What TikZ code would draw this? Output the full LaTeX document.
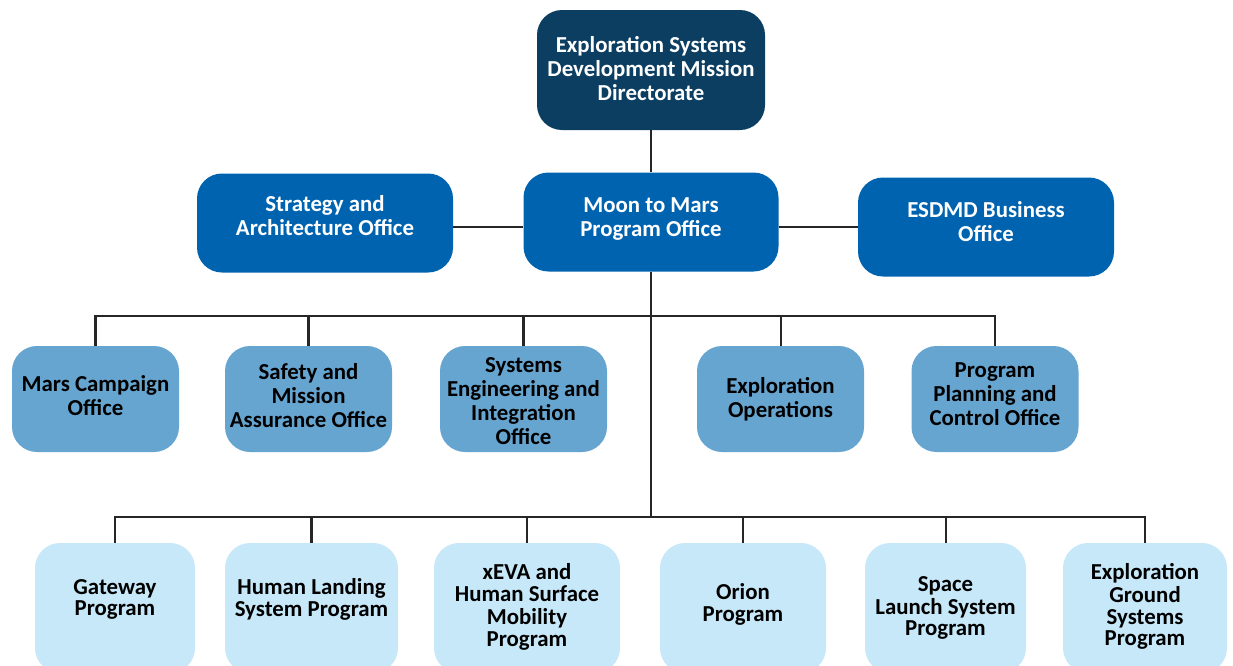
\documentclass[tikz,border=0pt]{standalone}
\usepackage{fontspec}
\setmainfont{Carlito}
\usepackage{tikz}
\usetikzlibrary{shapes,positioning,calc}
\definecolor{navy}{RGB}{12,62,98}
\definecolor{esdblue}{RGB}{0,99,176}
\definecolor{midblue}{RGB}{103,165,209}
\definecolor{paleblue}{RGB}{199,232,248}
\newcommand{\boxlines}[2]{\raisebox{#1}[\height][\depth]{\begin{tabular}{@{}c@{}}#2\end{tabular}}}
\tikzstyle{box} = [rounded corners=0.5cm, inner sep=2pt, font=\fontsize{13}{13.6}\selectfont\bfseries]
\tikzstyle{dirbox} = [box, fill=navy, text=white, minimum width=4.56cm, minimum height=2.4cm]
\tikzstyle{officebox} = [box, fill=esdblue, text=white, minimum width=5.12cm, minimum height=1.98cm]
\tikzstyle{unitbox} = [box, fill=midblue, text=black, minimum width=3.34cm, minimum height=2.12cm]
\tikzstyle{progbox} = [box, fill=paleblue, text=black, minimum height=2.6cm, font=\fontsize{13}{12.3}\selectfont\bfseries]
\tikzstyle{link} = [line width=1.15pt, draw=black!85]

\begin{document}
\begin{tikzpicture}
	\useasboundingbox (0,0) rectangle (24.66,-13.3);
	\node[dirbox] (esdmd) at (13.02,-1.40) {\boxlines{-0.03cm}{Exploration Systems\\Development Mission\\Directorate}};
	\node[officebox] (strat) at (6.50,-4.46) {\boxlines{0.08cm}{Strategy and\\Architecture Office}};
	\node[officebox, minimum width=5.10cm] (m2m) at (13.02,-4.44) {\boxlines{0.05cm}{Moon to Mars\\Program Office}};
	\node[officebox] (biz) at (19.72,-4.54) {\boxlines{0.05cm}{ESDMD Business\\Office}};
	\node[unitbox] (mars) at (1.91,-7.98) {\boxlines{0cm}{Mars Campaign\\Office}};
	\node[unitbox] (sma) at (6.17,-7.98) {\boxlines{0cm}{Safety and\\Mission\\Assurance Office}};
	\node[unitbox] (sei) at (10.47,-7.98) {\boxlines{-0.09cm}{Systems\\Engineering and\\Integration\\Office}};
	\node[unitbox] (expops) at (15.61,-7.98) {\boxlines{-0.03cm}{Exploration\\Operations}};
	\node[unitbox] (ppc) at (19.90,-7.98) {\boxlines{0.04cm}{Program\\Planning and\\Control Office}};
	\node[progbox, minimum width=3.20cm] (gateway) at (2.30,-12.16) {\boxlines{0.15cm}{Gateway\\Program}};
	\node[progbox, minimum width=3.46cm] (hls) at (6.23,-12.16) {\boxlines{0.15cm}{Human Landing\\System Program}};
	\node[progbox, minimum width=3.72cm] (xeva) at (10.54,-12.16) {\boxlines{0cm}{xEVA and\\Human Surface\\Mobility\\Program}};
	\node[progbox, minimum width=3.32cm] (orion) at (14.86,-12.16) {\boxlines{0.04cm}{Orion\\Program}};
	\node[progbox, minimum width=3.22cm] (sls) at (18.91,-12.16) {\boxlines{-0.03cm}{Space\\Launch System\\Program}};
	\node[progbox, minimum width=3.28cm] (egs) at (22.90,-12.16) {\boxlines{0cm}{Exploration\\Ground\\Systems\\Program}};
	\coordinate (hubA) at (13.02,-6.32);
	\coordinate (hubB) at (13.02,-10.34);
	\draw[link] (esdmd.south) -- (m2m.north);
	\draw[link] (strat.east |- biz.west) -- (m2m.west |- biz.west);
	\draw[link] (m2m.east |- biz.west) -- (biz.west);
	\draw[link] (m2m.south) -- (hubA) -- (hubB);
	\foreach \n in {mars,sma,sei,expops,ppc}
		\draw[link] (hubA) -| (\n.north);
	\foreach \n in {gateway,hls,xeva,orion,sls,egs}
		\draw[link] (hubB) -| (\n.north);
\end{tikzpicture}
\end{document}
